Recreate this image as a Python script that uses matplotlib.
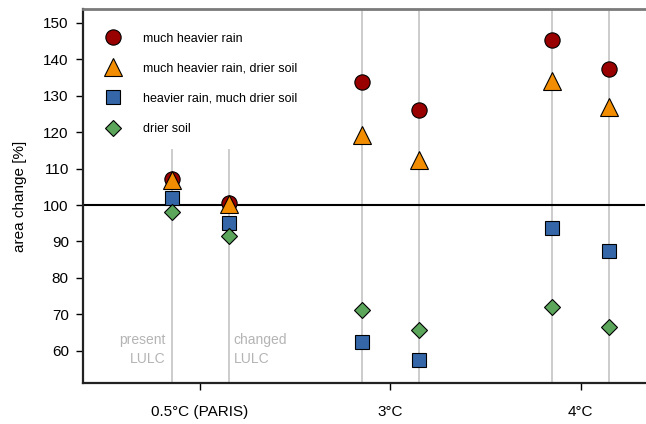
import numpy as np
import matplotlib.pyplot as plt

plt.rcParams['font.family'] = ['Liberation Sans', 'DejaVu Sans']

# Dati
scenari = ["0.5°C (PARIS)", "3°C", "4°C"]
serie = ["much heavier rain", "much heavier rain, drier soil",
         "heavier rain, much drier soil", "drier soil"]
# valori: [present LULC, changed LULC] per ogni scenario
much_heavier_rain = [107.0, 100.5, 133.7, 126.1, 145.3, 137.4]
heavier_rain_drier_soil = [106.8, 100.3, 119.3, 112.3, 134.1, 126.8]
heavier_rain_much_drier = [101.8, 95.1, 62.5, 57.4, 93.7, 87.5]
drier_soil = [98.2, 91.6, 71.1, 65.6, 72.1, 66.5]
yticks = [60, 70, 80, 90, 100, 110, 120, 130, 140, 150]

valori = [much_heavier_rain, heavier_rain_drier_soil, heavier_rain_much_drier, drier_soil]
stili = [
    dict(marker="o", color="#990000", ms=11),
    dict(marker="^", color="#F28C00", ms=12.5),
    dict(marker="s", color="#3466A8", ms=10.5),
    dict(marker="D", color="#5BA65B", ms=8.5),
]

centri = np.arange(1, len(scenari) + 1)
off = 0.15
xpos = np.ravel([[c - off, c + off] for c in centri])

fig = plt.figure(figsize=(6.46, 4.24), dpi=100)
ax = fig.add_axes([0.128, 0.097, 0.871, 0.882])
ax.set_xlim(0.383, 3.34)
ax.set_ylim(51.2, 153.8)

# linee verticali grigie
for i, x in enumerate(xpos):
    top = 115 if i < 2 else 153.8
    ax.plot([x, x], [51.2, top], color="#c8c8c8", lw=1.3, zorder=1)

ax.axhline(100, color="black", lw=1.5, zorder=2)

for vals, st, nome in zip(valori, stili, serie):
    ax.plot(xpos, vals, linestyle="none", marker=st["marker"], ms=st["ms"],
            mfc=st["color"], mec="black", mew=0.8, zorder=3, label=nome)

grigio = "#b4b4b4"
ax.text(xpos[0] - 0.03, 63.0, "present", ha="right", va="center", color=grigio, fontsize=10)
ax.text(xpos[0] - 0.03, 57.8, "LULC", ha="right", va="center", color=grigio, fontsize=10)
ax.text(xpos[1] + 0.025, 63.0, "changed", ha="left", va="center", color=grigio, fontsize=10)
ax.text(xpos[1] + 0.025, 57.8, "LULC", ha="left", va="center", color=grigio, fontsize=10)

ax.set_xticks(centri)
ax.set_xticklabels(scenari, fontsize=11)
ax.set_yticks(yticks)
ax.tick_params(axis="both", labelsize=11, length=5, width=1, direction="out", pad=5)
ax.tick_params(axis="x", pad=11)
ax.set_ylabel("area change [%]", fontsize=11, labelpad=12)

ax.spines["right"].set_visible(False)
ax.spines["top"].set_color("#7a7a7a")
ax.spines["top"].set_linewidth(2)
ax.spines["left"].set_linewidth(1.6)
ax.spines["left"].set_color("#222222")
ax.spines["bottom"].set_linewidth(1.6)
ax.spines["bottom"].set_color("#222222")

ax.legend(loc="upper left", bbox_to_anchor=(0.0155, 0.96), frameon=False, fontsize=9,
          labelspacing=1.45, handletextpad=1.4, borderaxespad=0.3)

plt.savefig("out.png", dpi=100)
